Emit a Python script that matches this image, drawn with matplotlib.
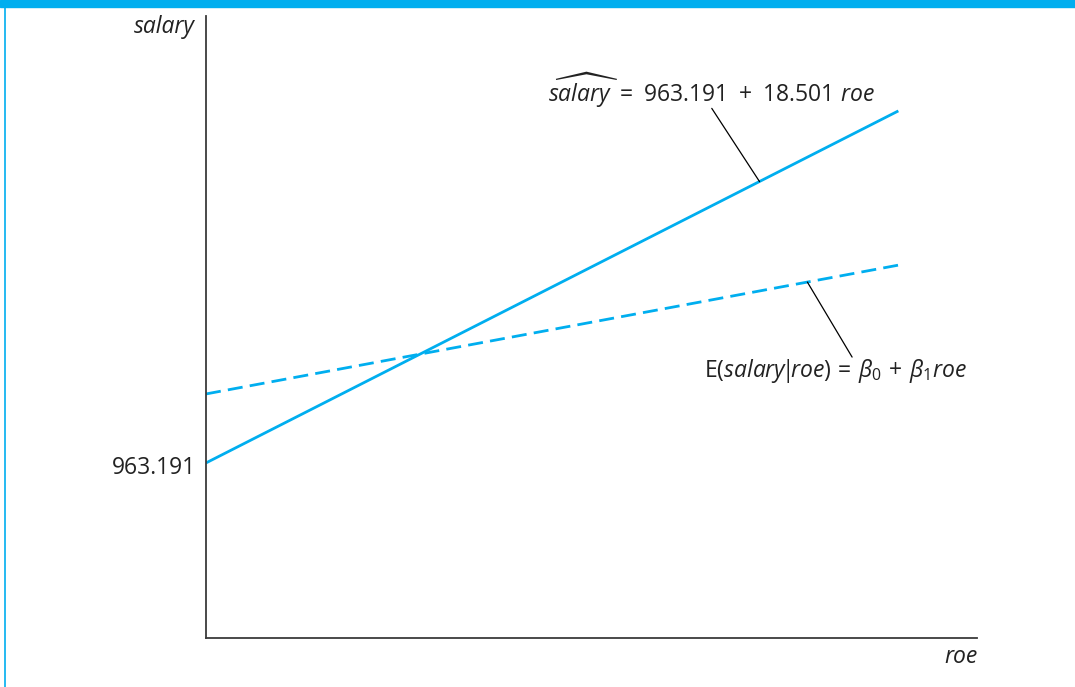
# fitted OLS line vs population regression line (salary on roe)

import matplotlib.pyplot as plt
from matplotlib.patches import Rectangle
from matplotlib.lines import Line2D

plt.rcParams["font.family"] = ["Open Sans", "DejaVu Sans"]
plt.rcParams["mathtext.fontset"] = "custom"
plt.rcParams["mathtext.rm"] = "Open Sans"
plt.rcParams["mathtext.it"] = "Open Sans:italic"

CYAN = "#00aeef"
AXIS = "#3a3a3a"
FS = 16.5

# --- data (line endpoints) ---
roe = [0, 44.9]
fitted_salary = [963.191, 1794.0]   # 963.191 + 18.501 roe
pop_salary = [1126.0, 1430.0]       # beta0 + beta1 roe
intercept_label = "963.191"

# leader lines: (text end, line end)
fit_leader = [(32.8, 1800.0), (35.9, 1627.0)]
pop_leader = [(39.0, 1390.0), (41.9, 1213.0)]

fig = plt.figure(figsize=(10.75, 6.87), dpi=100)
ax = fig.add_axes([206/1075, 1 - 638/687, 771/1075, 622/687])

ax.plot(roe, fitted_salary, color=CYAN, lw=2.0, solid_capstyle="butt")
ax.plot(roe, pop_salary, color=CYAN, lw=2.0, dashes=(5.4, 2.6))

ax.set_xlim(0, 50)
ax.set_ylim(550, 2018)

for s in ["top", "right"]:
    ax.spines[s].set_visible(False)
for s in ["left", "bottom"]:
    ax.spines[s].set_color(AXIS)
    ax.spines[s].set_linewidth(1.3)
ax.set_xticks([])
ax.set_yticks([])

# leader lines
for (a, b) in [fit_leader, pop_leader]:
    ax.annotate("", xy=b, xytext=a,
                arrowprops=dict(arrowstyle="-", color="black", lw=0.9,
                                shrinkA=0, shrinkB=0))

ax.text(22.2, 1815,
        r"$\widehat{salary}\ =\ \mathrm{963.191}\ +\ \mathrm{18.501}\ roe$",
        fontsize=FS, color="#222222", ha="left", va="baseline")
ax.text(32.3, 1166,
        r"$\mathrm{E}(salary\!|\!roe)\,=\,\beta_0\,+\,\beta_1 roe$",
        fontsize=FS, color="#222222", ha="left", va="baseline")

ax.annotate(intercept_label, xy=(0, fitted_salary[0]), xytext=(-7, -4),
            textcoords="offset points", ha="right", va="center",
            fontsize=FS, color="#222222", annotation_clip=False)

fig.text(195/1075, 1 - 33/687, "salary", style="italic", fontsize=FS,
         color="#222222", ha="right", va="baseline")
fig.text(978/1075, 1 - 663/687, "roe", style="italic", fontsize=FS,
         color="#222222", ha="right", va="baseline")

# frame decoration: top band and thin left rule
fig.patches.append(Rectangle((0, 1 - 7/687), 1, 7/687, transform=fig.transFigure,
                             color=CYAN, zorder=5))
fig.lines.append(Line2D([5/1075, 5/1075], [0, 1 - 7/687], transform=fig.transFigure,
                        color=CYAN, lw=1.2))

fig.savefig("out.png", dpi=100)
